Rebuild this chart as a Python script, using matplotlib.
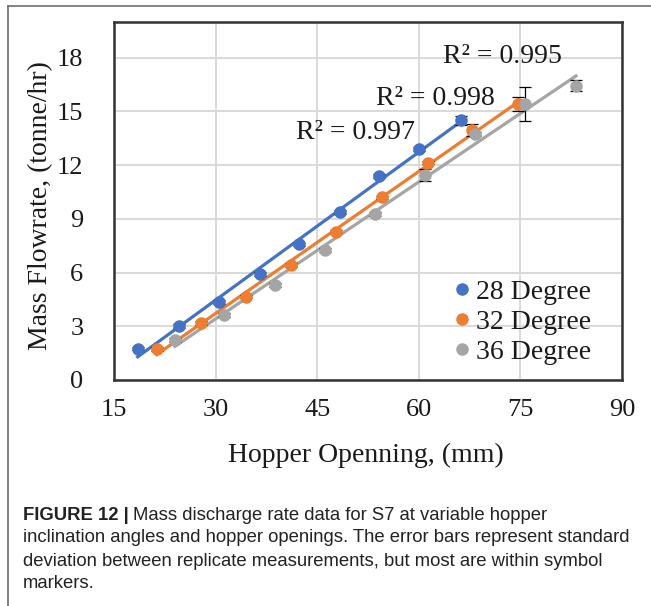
import matplotlib.pyplot as plt
import numpy as np

# hopper opening (mm) and mass flowrate (tonne/hr)
x28 = [18.5, 24.6, 30.5, 36.5, 42.3, 48.3, 54.1, 60.1, 66.2]
y28 = [1.75, 3.02, 4.35, 5.92, 7.58, 9.37, 11.4, 12.9, 14.5]
e28 = [0.1, 0.1, 0.1, 0.1, 0.1, 0.1, 0.1, 0.1, 0.25]

x32 = [21.3, 27.8, 34.5, 41.1, 47.8, 54.5, 61.3, 67.9, 74.6]
y32 = [1.73, 3.17, 4.66, 6.42, 8.29, 10.2, 12.14, 13.97, 15.42]
e32 = [0.1, 0.1, 0.1, 0.1, 0.1, 0.1, 0.1, 0.35, 0.4]

x36 = [24.0, 31.3, 38.7, 46.2, 53.5, 60.9, 68.3, 75.7, 83.2]
y36 = [2.23, 3.63, 5.31, 7.26, 9.26, 11.45, 13.74, 15.42, 16.44]
e36 = [0.1, 0.1, 0.1, 0.1, 0.1, 0.35, 0.1, 0.95, 0.3]

labels = ["28 Degree", "32 Degree", "36 Degree"]
colors = ["#4472C4", "#ED7D31", "#A5A5A5"]
r2_text = ["R² = 0.997", "R² = 0.998", "R² = 0.995"]
r2_pos = [(50.7, 13.8), (62.5, 15.75), (72.4, 18.05)]

xticks = [15, 30, 45, 60, 75, 90]
yticks = [0, 3, 6, 9, 12, 15, 18]

caption = [
    "Mass discharge rate data for S7 at variable hopper",
    "inclination angles and hopper openings. The error bars represent standard",
    "deviation between replicate measurements, but most are within symbol",
    "markers.",
]

W, H = 651, 606
fig = plt.figure(figsize=(W / 100, H / 100), dpi=100)
serif = "Liberation Serif"

# thin frame round the chart, top and left
fig.add_artist(plt.Line2D([8 / W, 8 / W], [0, 1 - 6 / H], color="#6e6e6e", lw=1.2))
fig.add_artist(plt.Line2D([8 / W, 1], [1 - 6 / H, 1 - 6 / H], color="#6e6e6e", lw=1.2))

ax = fig.add_axes([114 / W, 1 - 380 / H, (622 - 114) / W, (380 - 22) / H])

series = [(x28, y28, e28), (x32, y32, e32), (x36, y36, e36)]
for (xs, ys, es), c, lab in zip(series, colors, labels):
    xs = np.array(xs)
    ys = np.array(ys)
    k, b = np.polyfit(xs, ys, 1)
    xf = np.array([xs.min(), xs.max()])
    ax.plot(xf, k * xf + b, color=c, lw=2.3, zorder=3)
    ax.errorbar(xs, ys, yerr=es, fmt="none", ecolor="black", elinewidth=0.9,
                capsize=4, capthick=0.9, zorder=4)
    ax.plot(xs, ys, "o", color=c, ms=8, label=lab, zorder=5)

for t, (px, py) in zip(r2_text, r2_pos):
    ax.text(px, py, t, ha="center", va="center", fontsize=20, family=serif, color="#1a1a1a")

ax.set_xlim(15, 90)
ax.set_ylim(0, 20)
ax.set_xticks(xticks)
ax.set_yticks(yticks)
ax.tick_params(length=0, labelsize=19, colors="#1a1a1a")
ax.tick_params(axis="x", pad=14)
ax.tick_params(axis="y", pad=22)
for lbl in ax.get_xticklabels() + ax.get_yticklabels():
    lbl.set_family(serif)
ax.grid(color="#d9d9d9", lw=1.4)
ax.set_axisbelow(True)
for s in ax.spines.values():
    s.set_color("#333333")
    s.set_linewidth(1.8)

ax.legend(loc="center left", bbox_to_anchor=(0.671, 0.161), frameon=False,
          prop={"family": serif, "size": 20}, handlelength=0.5, handletextpad=0.25,
          borderpad=0, borderaxespad=0, labelspacing=0.16, numpoints=1,
          labelcolor="#1a1a1a")

fig.text(41 / W, 1 - 206 / H, "Mass Flowrate, (tonne/hr)", rotation=90,
         ha="center", va="center", fontsize=20, family=serif, color="#1a1a1a")
fig.text(366 / W, 1 - 455 / H, "Hopper Openning, (mm)", ha="center", va="center",
         fontsize=20, family=serif, color="#1a1a1a")

# caption
cap_size = 13.3
line_y = [516, 538, 561, 583]
head = fig.text(23 / W, 1 - line_y[0] / H, "FIGURE 12 |", ha="left", va="center",
                fontsize=cap_size, weight="bold", family="Liberation Sans", color="#222222")
ax.annotate(caption[0], xy=(1, 0.5), xycoords=head, xytext=(3, 0),
            textcoords="offset points", ha="left", va="center",
            fontsize=cap_size, family="Liberation Sans", color="#222222",
            annotation_clip=False)
for line, yy in zip(caption[1:], line_y[1:]):
    fig.text(23 / W, 1 - yy / H, line, ha="left", va="center",
             fontsize=cap_size, family="Liberation Sans", color="#222222")

fig.savefig("out.png", dpi=100)
